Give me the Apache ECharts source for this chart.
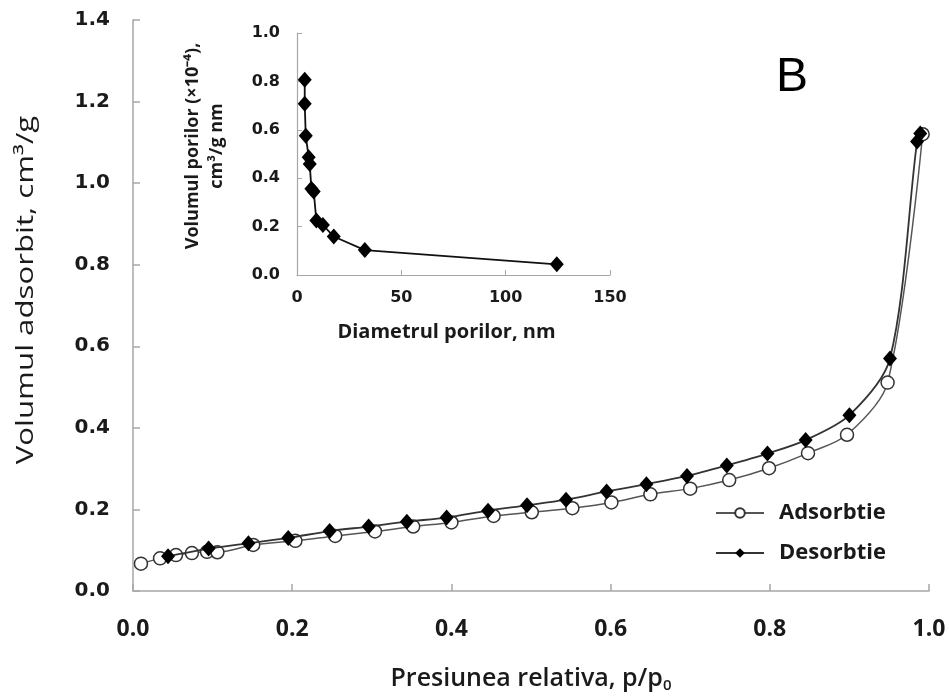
<!DOCTYPE html>
<html>
<head>
<meta charset="utf-8">
<script src="https://cdn.jsdelivr.net/npm/echarts@6/dist/echarts.min.js"></script>
<style>
  html, body { margin: 0; padding: 0; background: #fff; }
  #chart { width: 949px; height: 698px; }
</style>
</head>
<body>
<div id="chart"></div>
<script>
// Nitrogen isotherm: relative pressure p/p0 vs adsorbed volume (cm3/g)
const adsP = [0.010, 0.034, 0.054, 0.074, 0.093, 0.106, 0.151, 0.204, 0.254, 0.304, 0.352, 0.400,
              0.453, 0.501, 0.552, 0.601, 0.650, 0.700, 0.749, 0.799, 0.848, 0.897, 0.948, 0.992];
const adsV = [0.067, 0.080, 0.088, 0.093, 0.096, 0.095, 0.113, 0.123, 0.135, 0.146, 0.158, 0.168,
              0.184, 0.193, 0.203, 0.217, 0.237, 0.251, 0.272, 0.301, 0.338, 0.383, 0.511, 1.120];

const desP = [0.989, 0.985, 0.951, 0.900, 0.845, 0.797, 0.746, 0.696, 0.645, 0.595, 0.544,
              0.495, 0.446, 0.394, 0.344, 0.296, 0.247, 0.195, 0.145, 0.095, 0.044];
const desV = [1.122, 1.102, 0.570, 0.431, 0.370, 0.337, 0.308, 0.282, 0.262, 0.244, 0.224,
              0.210, 0.197, 0.180, 0.170, 0.158, 0.147, 0.130, 0.117, 0.104, 0.085];

// Pore size distribution (inset): diameter (nm) vs pore volume (x1e-4 cm3/g nm)
const poreD = [3.7, 3.7, 4.2, 5.6, 6.1, 6.9, 8.0, 9.3, 12.4, 17.6, 32.5, 124.5];
const poreV = [0.807, 0.708, 0.575, 0.487, 0.459, 0.356, 0.345, 0.225, 0.207, 0.159, 0.103, 0.044];

const mainXTicks = [0, 0.2, 0.4, 0.6, 0.8, 1.0];
const mainYTicks = [0, 0.2, 0.4, 0.6, 0.8, 1.0, 1.2, 1.4];
const insetXTicks = [0, 50, 100, 150];
const insetYTicks = [0, 0.2, 0.4, 0.6, 0.8, 1.0];

const zip = (a, b) => a.map((v, i) => [v, b[i]]);
const axisGray = '#a6a6a6';
const ink = '#1a1a1a';

const chart = echarts.init(document.getElementById('chart'), null, { renderer: 'canvas' });

chart.setOption({
  backgroundColor: '#ffffff',
  animation: false,
  grid: [
    { left: 133, right: 20, top: 20, bottom: 106 },
    { left: 297, right: 339, top: 33, bottom: 423 }
  ],
  xAxis: [
    {
      gridIndex: 0, type: 'value',
      min: mainXTicks[0], max: mainXTicks[mainXTicks.length - 1], interval: 0.2,
      axisLine: { lineStyle: { color: axisGray, width: 1.5 } },
      axisTick: { inside: true, length: 7, lineStyle: { color: axisGray, width: 1.5 } },
      splitLine: { show: false },
      axisLabel: {
        margin: 27, color: ink, fontFamily: 'Open Sans', fontWeight: 'bold', fontSize: 23,
        formatter: v => v.toFixed(1)
      },
      name: '{t|Presiunea relativa, p/p}{s|0}',
      nameLocation: 'middle', nameGap: 74,
      nameTextStyle: {
        rich: {
          t: { fontFamily: 'Open Sans', fontWeight: 600, fontSize: 25, color: ink },
          s: { fontFamily: 'Open Sans', fontWeight: 600, fontSize: 15, color: ink, padding: [13, 0, 0, 0] }
        }
      }
    },
    {
      gridIndex: 1, type: 'value',
      min: insetXTicks[0], max: insetXTicks[insetXTicks.length - 1], interval: 50,
      axisLine: { lineStyle: { color: axisGray, width: 1.2 } },
      axisTick: { inside: true, length: 5, lineStyle: { color: axisGray } },
      splitLine: { show: false },
      axisLabel: {
        margin: 15, color: ink, fontFamily: 'DejaVu Sans', fontWeight: 'bold', fontSize: 16,
        formatter: v => String(v)
      },
      name: 'Diametrul porilor, nm',
      nameLocation: 'middle', nameGap: 47,
      nameTextStyle: { fontFamily: 'Open Sans', fontWeight: 'bold', fontSize: 20, color: ink, padding: [0, 14, 0, 0] }
    }
  ],
  yAxis: [
    {
      gridIndex: 0, type: 'value',
      min: mainYTicks[0], max: mainYTicks[mainYTicks.length - 1], interval: 0.2,
      axisLine: { show: true, lineStyle: { color: axisGray, width: 1.5 } },
      axisTick: { show: true, inside: true, length: 7, lineStyle: { color: axisGray, width: 1.5 } },
      splitLine: { show: false },
      axisLabel: {
        margin: 23, color: ink, fontFamily: 'DejaVu Sans', fontWeight: 'bold', fontSize: 20,
        formatter: v => v.toFixed(1)
      }
    },
    {
      gridIndex: 1, type: 'value',
      min: insetYTicks[0], max: insetYTicks[insetYTicks.length - 1], interval: 0.2,
      axisLine: { show: true, lineStyle: { color: axisGray, width: 1.2 } },
      axisTick: { show: true, inside: true, length: 5, lineStyle: { color: axisGray } },
      splitLine: { show: false },
      axisLabel: {
        margin: 17, color: ink, fontFamily: 'DejaVu Sans', fontWeight: 'bold', fontSize: 16,
        formatter: v => v.toFixed(1)
      },
      name: 'Volumul porilor (×10⁻⁴),\ncm³/g nm',
      nameLocation: 'middle', nameGap: 68, nameRotate: 90,
      nameTextStyle: {
        fontFamily: 'Open Sans', fontWeight: 'bold', fontSize: 18, color: ink,
        lineHeight: 24, align: 'center', padding: [0, 0, 0, 16]
      }
    }
  ],
  legend: {
    data: ['Adsorbtie', 'Desorbtie'],
    orient: 'vertical',
    left: 710, top: 497,
    itemWidth: 48, itemHeight: 12, itemGap: 18,
    textStyle: { fontFamily: 'Open Sans', fontWeight: 'bold', fontSize: 22, color: ink, padding: [0, 0, 0, 10] }
  },
  graphic: [
    {
      // main y axis title, stretched along its reading direction
      type: 'text', x: 14, y: 290, rotation: Math.PI / 2, scaleX: 1.3,
      style: {
        text: 'Volumul adsorbit, cm³/g', fontFamily: 'Open Sans', fontSize: 24, fill: ink,
        align: 'center', verticalAlign: 'top'
      }
    },
    {
      type: 'text', left: 776, top: 54,
      style: { text: 'B', fontFamily: 'Liberation Sans', fontSize: 48, fill: '#000' }
    }
  ],
  series: [
    {
      name: 'Adsorbtie', type: 'line', xAxisIndex: 0, yAxisIndex: 0,
      data: zip(adsP, adsV), smooth: 0.3,
      symbol: 'circle', symbolSize: 13,
      lineStyle: { color: '#555', width: 1.5 },
      itemStyle: { color: '#ffffff', borderColor: '#333', borderWidth: 1.5 },
      z: 2
    },
    {
      name: 'Desorbtie', type: 'line', xAxisIndex: 0, yAxisIndex: 0,
      data: zip(desP, desV), smooth: 0.3,
      symbol: 'diamond', symbolSize: [14, 16],
      lineStyle: { color: '#333', width: 1.8 },
      itemStyle: { color: '#000' },
      z: 3
    },
    {
      name: 'Volumul porilor', type: 'line', xAxisIndex: 1, yAxisIndex: 1,
      data: zip(poreD, poreV),
      symbol: 'diamond', symbolSize: [14, 16],
      lineStyle: { color: '#111', width: 1.8 },
      itemStyle: { color: '#000' }
    }
  ]
});
</script>
</body>
</html>
